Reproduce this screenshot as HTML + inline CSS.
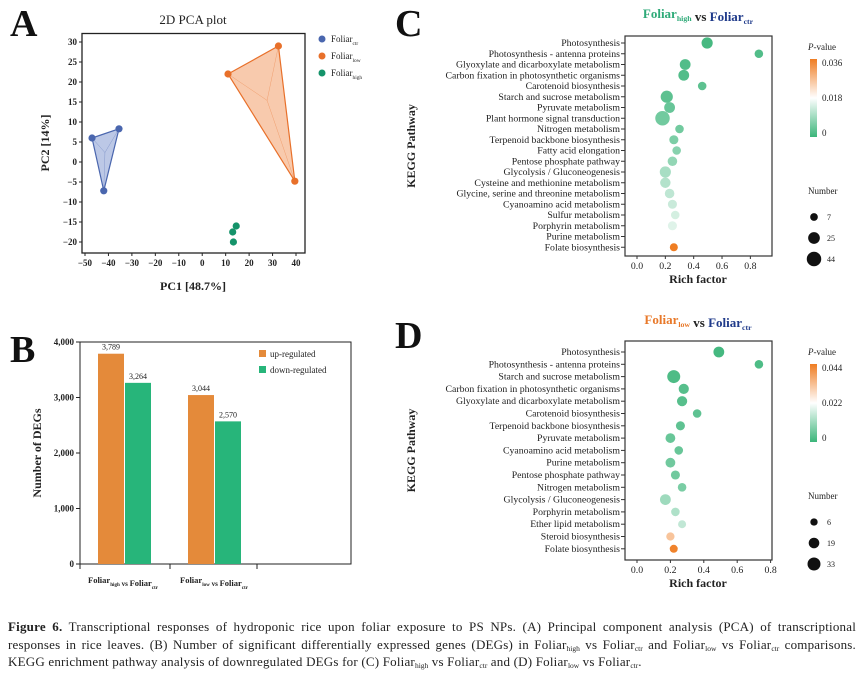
<!DOCTYPE html>
<html><head><meta charset="utf-8"><style>
body{margin:0;background:#fff;width:861px;height:680px;overflow:hidden;font-family:"Liberation Serif",serif}
svg{display:block}
.cap{position:absolute;left:8px;top:618px;width:848px;font-size:13px;letter-spacing:0.2px;line-height:17.5px;color:#222;font-family:"Liberation Serif",serif}
.cap div{white-space:nowrap}
.cap .j{text-align:justify;text-align-last:justify;white-space:normal}
sub{font-size:7.5px;line-height:0;vertical-align:-2px;letter-spacing:0}
</style></head><body>
<svg id="s" width="861" height="612" font-family="Liberation Serif, serif"></svg>
<div class="cap"><div class="j"><b>Figure 6.</b> Transcriptional responses of hydroponic rice upon foliar exposure to PS NPs. (A) Principal component analysis (PCA) of transcriptional</div><div class="j">responses in rice leaves. (B) Number of significant differentially expressed genes (DEGs) in Foliar<sub>high</sub> vs Foliar<sub>ctr</sub> and Foliar<sub>low</sub> vs Foliar<sub>ctr</sub> comparisons.</div><div>KEGG enrichment pathway analysis of downregulated DEGs for (C) Foliar<sub>high</sub> vs Foliar<sub>ctr</sub> and (D) Foliar<sub>low</sub> vs Foliar<sub>ctr</sub>.</div></div>
<script>
// ---- Panel A data ----
const pcaGroups=["ctr","low","high"];
const pcaCtrX=[-47,-35.5,-42], pcaCtrY=[6,8.3,-7.2];
const pcaLowX=[11,32.5,39.5], pcaLowY=[22,29,-4.8];
const pcaHighX=[14.5,13,13.3], pcaHighY=[-16,-17.5,-20];
const pcaXTicks=[-50,-40,-30,-20,-10,0,10,20,30,40];
const pcaYTicks=[30,25,20,15,10,5,0,-5,-10,-15,-20];
// ---- Panel B data ----
const degCategories=["high","low"];
const degUp=[3789,3044];
const degDown=[3264,2570];
const degTicks=[0,1000,2000,3000,4000];
// ---- Panel C data ----
const cPath=["Photosynthesis","Photosynthesis - antenna proteins","Glyoxylate and dicarboxylate metabolism","Carbon fixation in photosynthetic organisms","Carotenoid biosynthesis","Starch and sucrose metabolism","Pyruvate metabolism","Plant hormone signal transduction","Nitrogen metabolism","Terpenoid backbone biosynthesis","Fatty acid elongation","Pentose phosphate pathway","Glycolysis / Gluconeogenesis","Cysteine and methionine metabolism","Glycine, serine and threonine metabolism","Cyanoamino acid metabolism","Sulfur metabolism","Porphyrin metabolism","Purine metabolism","Folate biosynthesis"];
const cRich=[0.495,0.86,0.34,0.33,0.46,0.21,0.23,0.18,0.30,0.26,0.28,0.25,0.20,0.20,0.23,0.25,0.27,0.25,0.20,0.26];
const cNum=[22,10,20,20,10,28,20,44,10,12,10,14,22,18,14,12,10,12,14,8];
const cP=[0.001,0.002,0.002,0.002,0.003,0.003,0.004,0.005,0.005,0.006,0.007,0.008,0.010,0.011,0.012,0.013,0.014,0.015,0.018,0.036];
// ---- Panel D data ----
const dPath=["Photosynthesis","Photosynthesis - antenna proteins","Starch and sucrose metabolism","Carbon fixation in photosynthetic organisms","Glyoxylate and dicarboxylate metabolism","Carotenoid biosynthesis","Terpenoid backbone biosynthesis","Pyruvate metabolism","Cyanoamino acid metabolism","Purine metabolism","Pentose phosphate pathway","Nitrogen metabolism","Glycolysis / Gluconeogenesis","Porphyrin metabolism","Ether lipid metabolism","Steroid biosynthesis","Folate biosynthesis"];
const dRich=[0.49,0.73,0.22,0.28,0.27,0.36,0.26,0.20,0.25,0.20,0.23,0.27,0.17,0.23,0.27,0.20,0.22];
const dNum=[20,10,33,17,17,10,12,15,10,15,12,10,20,10,8,9,8];
const dP=[0.001,0.002,0.002,0.003,0.003,0.004,0.004,0.005,0.005,0.006,0.006,0.007,0.011,0.013,0.015,0.032,0.043];

const S=document.getElementById('s'),NS="http://www.w3.org/2000/svg";
function el(t,a,p){const e=document.createElementNS(NS,t);for(const k in a)e.setAttribute(k,a[k]);(p||S).appendChild(e);return e;}
function tx(x,y,s,a,p){const e=el('text',Object.assign({x:x,y:y,fill:'#222'},a),p);e.textContent=s;return e;}
function sub(parent,main,subt,fill){const t=document.createElementNS(NS,'tspan');t.textContent=main;if(fill)t.setAttribute('fill',fill);parent.appendChild(t);const u=document.createElementNS(NS,'tspan');u.textContent=subt;u.setAttribute('font-size','0.6em');u.setAttribute('dy','3');if(fill)u.setAttribute('fill',fill);parent.appendChild(u);const r=document.createElementNS(NS,'tspan');r.setAttribute('dy','-3');r.textContent='';parent.appendChild(r);}

// Panel letters
[["A",10,36],["B",10,362],["C",395,36],["D",395,348]].forEach(l=>{const e=tx(l[1],l[2],l[0],{'font-size':38,'font-weight':'bold',fill:'#111'});
});

// ---- Panel A ----
const ax=v=>85+(v+50)*(211/90), ay=v=>42+(30-v)*4;
const gA=el('g',{});
tx(193,24,"2D PCA plot",{'font-size':13,'text-anchor':'middle'},gA);
el('rect',{x:82,y:33.5,width:223,height:219.5,fill:'none',stroke:'#222','stroke-width':1.3},gA);
pcaXTicks.forEach(v=>{el('line',{x1:ax(v),x2:ax(v),y1:253,y2:256,stroke:'#222'},gA);tx(ax(v),266,v<0?'−'+(-v):v,{'font-size':9,'text-anchor':'middle','font-weight':'bold'},gA);});
pcaYTicks.forEach(v=>{el('line',{x1:79,x2:82,y1:ay(v),y2:ay(v),stroke:'#222'},gA);tx(77,ay(v)+3,v<0?'−'+(-v):v,{'font-size':9,'text-anchor':'end','font-weight':'bold'},gA);});
tx(193,290,"PC1 [48.7%]",{'font-size':12,'text-anchor':'middle','font-weight':'bold'},gA);
tx(0,0,"PC2 [14%]",{'font-size':12,'text-anchor':'middle','font-weight':'bold',transform:'translate(49,143) rotate(-90)'},gA);
const pcaCols={ctr:['#4a66ae','#9fb0dc'],low:['#e8702a','#f5b48a'],high:['#15936a','#15936a']};
const pcaData={ctr:[pcaCtrX,pcaCtrY],low:[pcaLowX,pcaLowY],high:[pcaHighX,pcaHighY]};
pcaGroups.forEach((g,gi)=>{
  const [X,Y]=pcaData[g],c=pcaCols[g];
  const pts=X.map((x,i)=>ax(x)+','+ay(Y[i])).join(' ');
  if(g!=='high'){
    const p=el('polygon',{points:pts,fill:c[1],'fill-opacity':0.7,stroke:c[0],'stroke-width':1.2},gA);
    
    const cx=X.reduce((a,b)=>a+b)/3,cy=Y.reduce((a,b)=>a+b)/3;
    X.forEach((x,i)=>el('line',{x1:ax(x),y1:ay(Y[i]),x2:ax(cx),y2:ay(cy),stroke:c[0],'stroke-width':0.4,'stroke-opacity':0.6},gA));
  }
  X.forEach((x,i)=>{const d=el('circle',{cx:ax(x),cy:ay(Y[i]),r:3.6,fill:c[0]},gA);
    });
  const ly=39+gi*17;
  const ld=el('circle',{cx:322,cy:ly,r:3.5,fill:c[0]},gA);
  
  const t=tx(331,ly+3,'',{'font-size':9},gA);sub(t,'Foliar',g);
});

// ---- Panel B ----
const by=v=>564-v*(222/4000);
const gB=el('g',{});
el('rect',{x:80,y:342,width:271,height:222,fill:'none',stroke:'#222','stroke-width':1},gB);
degTicks.forEach(v=>{el('line',{x1:76,x2:80,y1:by(v),y2:by(v),stroke:'#222'},gB);tx(74,by(v)+3,v.toLocaleString('en-US'),{'font-size':9,'text-anchor':'end','font-weight':'bold'},gB);});
[80,170,257].forEach(x=>el('line',{x1:x,x2:x,y1:564,y2:569,stroke:'#222'},gB));
tx(0,0,"Number of DEGs",{'font-size':12,'text-anchor':'middle','font-weight':'bold',transform:'translate(41,453) rotate(-90)'},gB);
degCategories.forEach((c,i)=>{
  const x0=98+i*90;
  const u=el('rect',{x:x0,y:by(degUp[i]),width:26,height:564-by(degUp[i]),fill:'#e48a3a'},gB);
  
  const d=el('rect',{x:x0+27,y:by(degDown[i]),width:26,height:564-by(degDown[i]),fill:'#27b57a'},gB);
  
  tx(x0+13,by(degUp[i])-4,degUp[i].toLocaleString('en-US'),{'font-size':8,'text-anchor':'middle'},gB);
  tx(x0+40,by(degDown[i])-4,degDown[i].toLocaleString('en-US'),{'font-size':8,'text-anchor':'middle'},gB);
  const t=tx(x0-10+i*2,583,'',{'font-size':8.5,'font-weight':'bold'},gB);sub(t,'Foliar',c);
  const t2=document.createElementNS(NS,'tspan');t2.textContent=' vs ';t2.setAttribute('font-size','7');t.appendChild(t2);sub(t,'Foliar','ctr');
});
el('rect',{x:259,y:350,width:7,height:7,fill:'#e48a3a'},gB);tx(270,357,"up-regulated",{'font-size':9},gB);
el('rect',{x:259,y:366,width:7,height:7,fill:'#27b57a'},gB);tx(270,373,"down-regulated",{'font-size':9},gB);

// ---- Bubble panels ----
function pcol(t){
  const g=[60,181,122],w=[255,255,255],o=[239,125,34];
  let a,b,f;if(t<0.5){a=g;b=w;f=t/0.5;}else{a=w;b=o;f=(t-0.5)/0.5;}
  return 'rgb('+a.map((v,i)=>Math.round(v+(b[i]-v)*f)).join(',')+')';}
function bubble(opt){
  const g=el('g',{});
  const {x0,x1,y0,y1,zero,scale,rows,rowStep,path,rich,num,pv,pmax,legendY,nLeg,titleY}=opt;
  const bx=v=>zero+v*scale, byy=i=>rows+i*rowStep, rr=n=>1.6+0.85*Math.sqrt(n);
  const t=tx(698,titleY,'',{'font-size':13,'font-weight':'bold','text-anchor':'middle'},g);
  sub(t,'Foliar',opt.grp,opt.grpCol);const v=document.createElementNS(NS,'tspan');v.textContent=' vs ';t.appendChild(v);sub(t,'Foliar','ctr','#1f3a8a');
  el('rect',{x:x0,y:y0,width:x1-x0,height:y1-y0,fill:'none',stroke:'#333','stroke-width':1.2},g);
  [0,0.2,0.4,0.6,0.8].forEach(v=>{el('line',{x1:bx(v),x2:bx(v),y1:y1,y2:y1+3,stroke:'#333'},g);tx(bx(v),y1+13,v.toFixed(1),{'font-size':9.8,'text-anchor':'middle'},g);});
  tx(698,y1+27,"Rich factor",{'font-size':12,'font-weight':'bold','text-anchor':'middle'},g);
  tx(0,0,"KEGG Pathway",{'font-size':12,'font-weight':'bold','text-anchor':'middle',transform:'translate(415,'+((y0+y1)/2)+') rotate(-90)'},g);
  path.forEach((p,i)=>{
    el('line',{x1:x0-4,x2:x0,y1:byy(i),y2:byy(i),stroke:'#333'},g);
    tx(x0-5,byy(i)+3,p,{'font-size':9.8,'text-anchor':'end'},g);
    const c=el('circle',{cx:bx(rich[i]),cy:byy(i),r:rr(num[i]),fill:pcol(pv[i]/pmax)},g);
    
    
  });
  const pt=tx(808,legendY,'',{'font-size':9},g);
  const ip=document.createElementNS(NS,'tspan');ip.setAttribute('font-style','italic');ip.textContent='P';pt.appendChild(ip);
  const ip2=document.createElementNS(NS,'tspan');ip2.textContent='-value';pt.appendChild(ip2);
  const gid='grad'+opt.name;
  const lg=el('linearGradient',{id:gid,x1:0,y1:1,x2:0,y2:0},el('defs',{},g));
  el('stop',{offset:'0','stop-color':'#3cb57a'},lg);
  el('stop',{offset:'0.5','stop-color':'#ffffff'},lg);el('stop',{offset:'1','stop-color':'#ef7d22'},lg);
  el('rect',{x:810,y:legendY+9,width:7,height:78,fill:'url(#'+gid+')'},g);
  tx(822,legendY+16,opt.pLabels[0],{'font-size':9},g);tx(822,legendY+51,opt.pLabels[1],{'font-size':9},g);tx(822,legendY+86,'0',{'font-size':9},g);
  tx(808,legendY+144,'Number',{'font-size':9},g);
  nLeg.forEach((n,k)=>{const yy=legendY+167+k*21;el('circle',{cx:814,cy:yy,r:rr(n),fill:'#111'},g);tx(827,yy+3,n,{'font-size':8},g);});
}
bubble({name:'kegg-high-vs-ctr',x0:625,x1:772,y0:36,y1:256,zero:637,scale:141.7,rows:43,rowStep:10.75,path:cPath,rich:cRich,num:cNum,pv:cP,pmax:0.036,legendY:50,nLeg:[7,25,44],titleY:18,grp:'high',grpCol:'#2eaa78',pLabels:['0.036','0.018']});
bubble({name:'kegg-low-vs-ctr',x0:625,x1:772,y0:341,y1:560,zero:637,scale:167,rows:352,rowStep:12.3,path:dPath,rich:dRich,num:dNum,pv:dP,pmax:0.044,legendY:355,nLeg:[6,19,33],titleY:324,grp:'low',grpCol:'#e8792a',pLabels:['0.044','0.022']});
</script>
</body></html>
